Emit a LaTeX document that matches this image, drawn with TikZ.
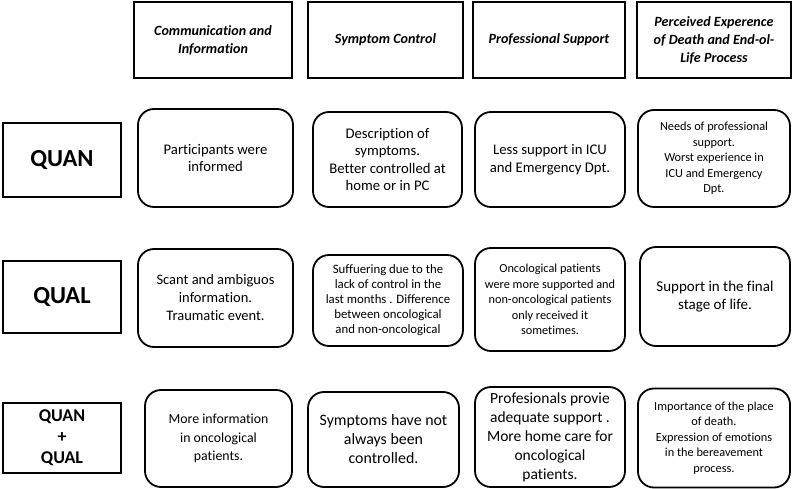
\documentclass[tikz,border=0pt]{standalone}
\usepackage{fontspec}
\setmainfont{Carlito}[Ligatures=NoCommon]
\begin{document}
\begin{tikzpicture}[x=1pt,y=-1pt,
  hdr/.style={draw=black,line width=1.8pt,align=center,inner sep=2pt,font=\fontsize{14.1}{18}\selectfont\bfseries\itshape},
  lbl/.style={draw=black,line width=1.8pt,align=center,inner sep=2pt},
  cell/.style={draw=black,line width=1.8pt,rounded corners=16pt,align=center,inner sep=2pt,font=\fontsize{14.7}{17.5}\selectfont},
  small/.style={font=\fontsize{12.3}{15.5}\selectfont},
  big/.style={font=\fontsize{15.5}{19}\selectfont}]
\useasboundingbox (0,0) rectangle (793,489);
% headers
\node[hdr,minimum width=158pt,minimum height=76pt] (h1) at (213,40) {Communication and\\Information};
\node[hdr,minimum width=155pt,minimum height=76pt] (h2) at (385.5,40) {Symptom Control};
\node[hdr,minimum width=152pt,minimum height=76pt] (h3) at (549,40) {Professional Support};
\node[hdr,minimum width=154pt,minimum height=76pt] (h4) at (714,40) {Perceived Experence\\of Death and End-ol-\\Life Process};
% row labels
\node[lbl,minimum width=118pt,minimum height=74pt,font=\fontsize{24.5}{27}\selectfont\bfseries] (l1) at (62,160) {QUAN};
\node[lbl,minimum width=118pt,minimum height=72pt,font=\fontsize{24.5}{27}\selectfont\bfseries] (l2) at (62,297) {QUAL};
\node[lbl,minimum width=118pt,minimum height=70pt,font=\fontsize{18}{21}\selectfont\bfseries] (l3) at (62,438) {QUAN\\+\\QUAL};
% row 1
\node[cell,minimum width=155pt,minimum height=98pt] (a1) at (215.5,158) {Participants were\\informed};
\node[cell,minimum width=149pt,minimum height=95pt] (a2) at (387.5,159.5) {Description of\\symptoms.\\Better controlled at\\home or in PC};
\node[cell,minimum width=150pt,minimum height=95pt] (a3) at (550,159.5) {Less support in ICU\\and Emergency Dpt.};
\node[cell,small,minimum width=152pt,minimum height=97pt] (a4) at (714,158.5) {Needs of professional\\support.\\Worst experience in\\ICU and Emergency\\Dpt.};
% row 2
\node[cell,font=\fontsize{14.5}{18}\selectfont,minimum width=155pt,minimum height=98pt] (b1) at (215.5,298) {Scant and ambiguos\\information.\\Traumatic event.};
\node[cell,font=\fontsize{12.8}{15}\selectfont,minimum width=150pt,minimum height=91pt] (b2) at (388,300.5) {Suffuering due to the\\lack of control in the\\last months . Difference\\between oncological\\and non-oncological};
\node[cell,small,minimum width=150pt,minimum height=103pt] (b3) at (550,299.5) {Oncological patients\\were more supported and\\non-oncological patients\\only received it\\sometimes.};
\node[cell,font=\fontsize{15}{18}\selectfont,minimum width=150pt,minimum height=99pt] (b4) at (715,296.5) {Support in the final\\stage of life.};
% row 3
\node[cell,font=\fontsize{13.8}{18.5}\selectfont,minimum width=147pt,minimum height=97pt] (c1) at (218.5,438.5) {More information\\in oncological\\patients.};
\node[cell,font=\fontsize{15.9}{19}\selectfont,minimum width=151pt,minimum height=95pt] (c2) at (383.5,439.5) {Symptoms have not\\always been\\controlled.};
\node[cell,big,minimum width=150pt,minimum height=100pt] (c3) at (550,437) {Profesionals provie\\adequate support .\\More home care for\\oncological\\patients.};
\node[cell,small,minimum width=152pt,minimum height=99pt] (c4) at (714,438) {Importance of the place\\of death.\\Expression of emotions\\in the bereavement\\process.};
\end{tikzpicture}
\end{document}
